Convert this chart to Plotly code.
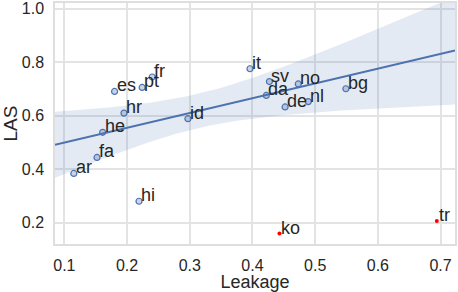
import numpy as np
import plotly.graph_objects as go

# Data
langs = ["es", "pt", "fr", "hr", "he", "id", "it", "sv", "da", "no", "de", "nl", "bg", "fa", "ar", "hi"]
leakage = [0.180, 0.224, 0.240, 0.195, 0.161, 0.297, 0.396, 0.427, 0.422, 0.473, 0.452, 0.489, 0.549, 0.152, 0.115, 0.219]
las = [0.691, 0.706, 0.745, 0.610, 0.538, 0.589, 0.776, 0.728, 0.676, 0.719, 0.633, 0.653, 0.701, 0.444, 0.384, 0.280]

out_langs = ["ko", "tr"]
out_leakage = [0.443, 0.694]
out_las = [0.159, 0.206]

x_ticks = [0.1, 0.2, 0.3, 0.4, 0.5, 0.6, 0.7]
y_ticks = [0.2, 0.4, 0.6, 0.8, 1.0]

XR = [0.085, 0.723]
YR = [0.12, 1.022]

BLUE = "#4C72B0"
TXT = "#262626"
FONT = "Liberation Sans, Arial, sans-serif"

# Linear regression with 95% CI (as seaborn regplot)
x = np.array(leakage)
y = np.array(las)
n = len(x)
b, a = np.polyfit(x, y, 1)
xs = np.linspace(XR[0], XR[1], 100)
ys = a + b * xs
resid = y - (a + b * x)
s = np.sqrt(np.sum(resid ** 2) / (n - 2))
sxx = np.sum((x - x.mean()) ** 2)
tval = 2.145
se = s * np.sqrt(1.0 / n + (xs - x.mean()) ** 2 / sxx)
upper = ys + tval * se
lower = ys - tval * se

fig = go.Figure()
fig.add_trace(go.Scatter(x=list(xs) + list(xs[::-1]), y=list(upper) + list(lower[::-1]),
                         fill="toself", fillcolor="rgba(76,114,176,0.15)",
                         line=dict(width=0), hoverinfo="skip", showlegend=False))
fig.add_trace(go.Scatter(x=xs, y=ys, mode="lines", line=dict(color=BLUE, width=2), showlegend=False))
fig.add_trace(go.Scatter(x=leakage, y=las, mode="markers",
                         marker=dict(size=6, color="rgba(76,114,176,0.3)", line=dict(color=BLUE, width=1.2)),
                         showlegend=False))
fig.add_trace(go.Scatter(x=out_leakage, y=out_las, mode="markers",
                         marker=dict(size=4, color="red"), showlegend=False))

for lx, ly, lt in list(zip(leakage, las, langs)) + list(zip(out_leakage, out_las, out_langs)):
    fig.add_annotation(x=lx, y=ly, text=lt, showarrow=False, xanchor="left", yanchor="bottom",
                       xshift=0, yshift=-6, font=dict(family=FONT, size=18, color=TXT))

axis_common = dict(showgrid=True, gridcolor="#e3e3e3", gridwidth=1.5, zeroline=False,
                   showline=True, linecolor="#dedede", linewidth=1.5, mirror=True,
                   ticks="", tickfont=dict(family=FONT, size=16, color=TXT))

fig.update_xaxes(range=XR, tickvals=x_ticks, ticktext=[str(v) for v in x_ticks],
                 title_text="Leakage", title_standoff=4, ticklabelstandoff=6,
                 title_font=dict(family=FONT, size=18, color=TXT), **axis_common)
fig.update_yaxes(range=YR, tickvals=y_ticks, ticktext=["%.1f" % v for v in y_ticks],
                 title_text="LAS", title_standoff=5, ticklabelstandoff=6,
                 title_font=dict(family=FONT, size=19, color=TXT), **axis_common)

fig.update_layout(width=458, height=292, margin=dict(l=55, r=1, t=2, b=47),
                  plot_bgcolor="white", paper_bgcolor="white", showlegend=False)

fig.write_html("out.html", config={"displayModeBar": False},
               post_script="document.body.style.margin='0';")
